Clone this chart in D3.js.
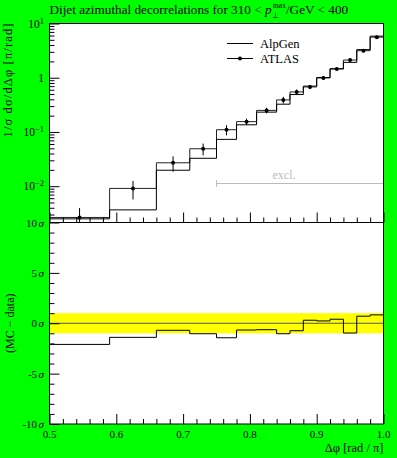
<!DOCTYPE html>
<html>
<head>
<meta charset="utf-8">
<script src="https://d3js.org/d3.v7.min.js"></script>
<style>
  body { margin: 0; background: #00ff00; }
  text { font-family: "Liberation Serif", serif; fill: #000; }
</style>
</head>
<body>
<figure id="chart" style="margin:0"></figure>
<script>
// bin edges in units of pi
const edges = [0.5, 0.59, 0.66, 0.71, 0.75, 0.78, 0.81, 0.84, 0.86, 0.88, 0.90, 0.92, 0.94, 0.96, 0.98, 1.0];
// ATLAS data
const dataVals = [0.00265, 0.0091, 0.027, 0.049, 0.11, 0.155, 0.25, 0.39, 0.547, 0.676, 0.99, 1.445, 2.12, 3.15, 5.6];
const dataErr = [0.0013, 0.0034, 0.0085, 0.012, 0.023, 0.021, 0.03, 0.055, 0.06, 0.06, 0.08, 0.1, 0.15, 0.2, 0.3];
// AlpGen prediction
const mcVals = [0.0025, 0.00366, 0.0197, 0.0327, 0.073, 0.1355, 0.232, 0.325, 0.49, 0.70, 1.01, 1.47, 1.92, 3.3, 5.84];
// (MC - data) / sigma
const devVals = [-2.1, -1.4, -0.7, -1.04, -1.44, -0.67, -0.64, -1.04, -0.74, 0.3, 0.23, 0.4, -0.97, 0.7, 0.83];

const xTicks = [0.5, 0.6, 0.7, 0.8, 0.9, 1.0];
const xTickLabels = ["0.5", "0.6", "0.7", "0.8", "0.9", "1.0"];
const logTicks = [10, 1, 0.1, 0.01];
const devTicks = [-10, -5, 0, 5, 10];
const exclRange = [0.75, 1.0];

let dims = {
    width: 397,
    height: 458,
    left: 49.5,
    right: 383.5,
    top: 23.5,
    mid: 222.5,
    bottom: 424
};

var svg = d3.select("figure#chart")
    .append("svg")
    .attr("width", dims.width)
    .attr("height", dims.height);

svg.append("rect").attr("width", dims.width).attr("height", dims.height).attr("fill", "#00ff00");

var x = d3.scaleLinear().domain([0.5, 1.0]).range([dims.left, dims.right]);
var yTop = d3.scaleLog().domain([0.00214, 10]).range([dims.mid, dims.top]);
var yDev = d3.scaleLinear().domain([-10, 10]).range([dims.bottom, dims.mid]);

// panel backgrounds
svg.append("rect").attr("x", dims.left).attr("y", dims.top)
    .attr("width", dims.right - dims.left).attr("height", dims.mid - dims.top).attr("fill", "#fff");
svg.append("rect").attr("x", dims.left).attr("y", dims.mid)
    .attr("width", dims.right - dims.left).attr("height", dims.bottom - dims.mid).attr("fill", "#fff");

svg.append("clipPath").attr("id", "clipTop").append("rect")
    .attr("x", dims.left).attr("y", dims.top).attr("width", dims.right - dims.left).attr("height", dims.mid - dims.top);

// step histogram helper
function steps(vals, y) {
    let pts = vals.map((v, i) => [x(edges[i]), y(v)]);
    pts.push([x(edges[edges.length - 1]), y(vals[vals.length - 1])]);
    return d3.line().curve(d3.curveStepAfter)(pts);
}

var topG = svg.append("g").attr("clip-path", "url(#clipTop)");

// excluded region marker
var exy = 183.5;
topG.append("line").attr("x1", x(exclRange[0])).attr("x2", x(exclRange[1]))
    .attr("y1", exy).attr("y2", exy).attr("stroke", "#bbb");
topG.selectAll("line.cap").data(exclRange).enter().append("line")
    .attr("x1", d => x(d)).attr("x2", d => x(d))
    .attr("y1", exy - 3.5).attr("y2", exy + 3.5).attr("stroke", "#bbb");
svg.append("text").attr("x", 284).attr("y", 179).attr("text-anchor", "middle")
    .attr("font-size", 12).style("fill", "#bbb").text("excl.");

// data as step + error bars + markers
topG.append("path").attr("d", steps(dataVals, yTop)).attr("fill", "none").attr("stroke", "#222");
topG.append("path").attr("d", steps(mcVals, yTop)).attr("fill", "none").attr("stroke", "#000");

var centers = dataVals.map((v, i) => (edges[i] + edges[i + 1]) / 2);
topG.selectAll("line.err").data(dataVals).enter().append("line")
    .attr("x1", (d, i) => x(centers[i])).attr("x2", (d, i) => x(centers[i]))
    .attr("y1", (d, i) => yTop(d + dataErr[i]))
    .attr("y2", (d, i) => yTop(Math.max(d - dataErr[i], 1e-4)))
    .attr("stroke", "#000");
topG.selectAll("circle").data(dataVals).enter().append("circle")
    .attr("cx", (d, i) => x(centers[i])).attr("cy", d => yTop(d)).attr("r", 2).attr("fill", "#000");

// ratio panel
svg.append("rect").attr("x", dims.left).attr("y", yDev(1))
    .attr("width", dims.right - dims.left).attr("height", yDev(-1) - yDev(1)).attr("fill", "#ffff00");
svg.append("line").attr("x1", dims.left).attr("x2", dims.right)
    .attr("y1", yDev(0)).attr("y2", yDev(0)).attr("stroke", "#555");
svg.append("path").attr("d", steps(devVals, yDev)).attr("fill", "none").attr("stroke", "#000");

// frames
[[dims.top, dims.mid], [dims.mid, dims.bottom]].forEach(([a, b]) => {
    svg.append("rect").attr("x", dims.left).attr("y", a).attr("width", dims.right - dims.left)
        .attr("height", b - a).attr("fill", "none").attr("stroke", "#000");
});

// x ticks (inside) on both panels
var xMinor = d3.range(0.52, 1.0, 0.02).filter(v => Math.abs(v * 10 - Math.round(v * 10)) > 1e-6);
[dims.mid, dims.bottom].forEach(yy => {
    svg.append("g").attr("transform", `translate(0,${yy})`)
        .call(d3.axisBottom(x).tickValues(xTicks).tickSize(-10).tickFormat(""))
        .call(g => g.select(".domain").remove());
    svg.append("g").attr("transform", `translate(0,${yy})`)
        .call(d3.axisBottom(x).tickValues(xMinor).tickSize(-5).tickFormat(""))
        .call(g => g.select(".domain").remove());
});

// y ticks top (log)
var logMinor = [];
[0.001, 0.01, 0.1, 1].forEach(dec => d3.range(2, 10).forEach(k => {
    if (dec * k > 0.00214 && dec * k < 10) logMinor.push(dec * k);
}));
svg.append("g").attr("transform", `translate(${dims.left},0)`)
    .call(d3.axisLeft(yTop).tickValues(logTicks).tickSize(-10).tickFormat(""))
    .call(g => g.select(".domain").remove());
svg.append("g").attr("transform", `translate(${dims.left},0)`)
    .call(d3.axisLeft(yTop).tickValues(logMinor).tickSize(-5).tickFormat(""))
    .call(g => g.select(".domain").remove());

// y ticks ratio
svg.append("g").attr("transform", `translate(${dims.left},0)`)
    .call(d3.axisLeft(yDev).tickValues(devTicks).tickSize(-10).tickFormat(""))
    .call(g => g.select(".domain").remove());
svg.append("g").attr("transform", `translate(${dims.left},0)`)
    .call(d3.axisLeft(yDev).tickValues(d3.range(-9, 10).filter(v => v % 5 != 0)).tickSize(-5).tickFormat(""))
    .call(g => g.select(".domain").remove());

svg.selectAll(".tick line").attr("stroke", "#000");

// tick labels
logTicks.forEach(v => {
    var t = svg.append("text").attr("x", 44).attr("y", yTop(v) + 4)
        .attr("text-anchor", "end").attr("font-size", 11.5);
    var e = Math.round(Math.log10(v));
    if (e == 0) { t.text("1"); return; }
    t.append("tspan").text("10");
    t.append("tspan").attr("dy", -4).attr("font-size", 8.5).text(e < 0 ? "\u2212" + (-e) : e);
});
devTicks.forEach(v => {
    var t = svg.append("text").attr("x", 44).attr("y", yDev(v) + 4)
        .attr("text-anchor", "end").attr("font-size", 11);
    t.append("tspan").text(v < 0 ? "-" + (-v) : v);
    t.append("tspan").attr("dx", 1.5).attr("font-style", "italic").text("\u03c3");
});
xTicks.forEach((v, i) => {
    svg.append("text").attr("x", x(v)).attr("y", 438).attr("text-anchor", "middle")
        .attr("font-size", 11).text(xTickLabels[i]);
});

// axis titles
svg.append("text").attr("x", dims.right).attr("y", 452).attr("text-anchor", "end")
    .attr("font-size", 12.5).text("\u0394\u03c6 [rad / \u03c0]");

svg.append("text").attr("transform", `translate(12,${dims.top}) rotate(-90)`)
    .attr("text-anchor", "end").attr("font-size", 12.5)
    .attr("textLength", 114).attr("lengthAdjust", "spacing")
    .text("1/\u03c3 d\u03c3/d\u0394\u03c6 [\u03c0/rad]");

svg.append("text").attr("transform", `translate(14,${yDev(0)}) rotate(-90)`)
    .attr("text-anchor", "middle").attr("font-size", 12).text("(MC \u2212 data)");

// title
var title = svg.append("text").attr("x", dims.left).attr("y", 14).attr("font-size", 13.2);
title.append("tspan").text("Dijet azimuthal decorrelations for 310 < ");
title.append("tspan").attr("font-style", "italic").text("p");
title.append("tspan").attr("dy", 3.5).attr("font-size", 8).text("\u22a5");
title.append("tspan").attr("dy", -10).attr("dx", -5.5).attr("font-size", 7.5).text("max");
title.append("tspan").attr("dy", 6.5).text("/GeV < 400");

// legend
var legend = [{ name: "AlpGen", dot: false }, { name: "ATLAS", dot: true }];
legend.forEach((d, i) => {
    var ly = 43.5 + i * 15;
    svg.append("line").attr("x1", 227).attr("x2", 253).attr("y1", ly).attr("y2", ly).attr("stroke", "#000");
    if (d.dot) svg.append("circle").attr("cx", 240).attr("cy", ly).attr("r", 2).attr("fill", "#000");
    svg.append("text").attr("x", 260).attr("y", ly + 4.5).attr("font-size", 12.5).text(d.name);
});
</script>
</body>
</html>
